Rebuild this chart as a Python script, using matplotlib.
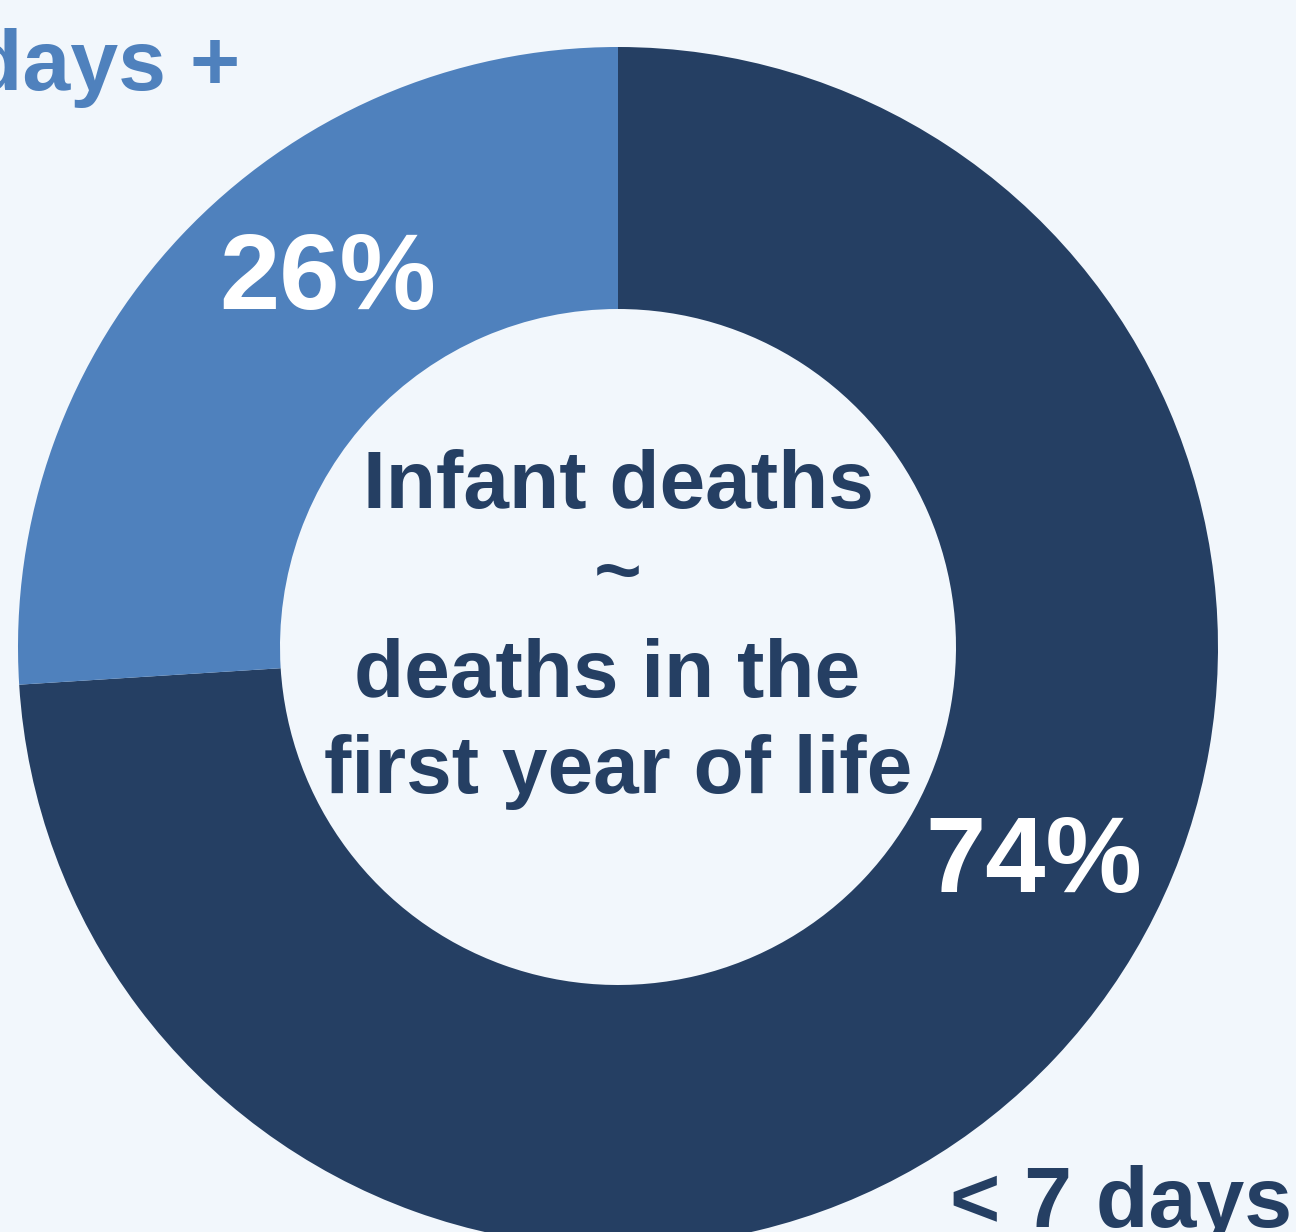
import matplotlib.pyplot as plt

# data
categories = ['< 7 days', '7 days +']
shares = [74, 26]
pct_labels = ['74%', '26%']
center_text = ['Infant deaths', '~', 'deaths in the ', 'first year of life']

DARK = '#253f63'
LIGHT = '#4f81bd'
BG = '#f2f7fc'
W, H = 1296, 1232

plt.rcParams['font.family'] = ['Liberation Sans', 'DejaVu Sans']
plt.rcParams['font.weight'] = 'bold'

fig = plt.figure(figsize=(W / 100, H / 100), dpi=100, facecolor=BG)
ax = fig.add_axes([0, 0, 1, 1])
ax.set_facecolor(BG)

cx, cy = 618, H - 647
ax.pie(shares, colors=[DARK, LIGHT], startangle=90, counterclock=False,
       radius=600, center=(cx, cy), frame=True,
       wedgeprops=dict(width=262, edgecolor='none'))
ax.set_xlim(0, W)
ax.set_ylim(0, H)
ax.set_aspect('equal')
ax.axis('off')

# percent labels inside the ring
ax.text(1034, H - 892, pct_labels[0], color='white', fontsize=78,
        ha='center', va='baseline')
ax.text(328, H - 309, pct_labels[1], color='white', fontsize=78,
        ha='center', va='baseline')

# outer category labels (cut by the edge)
ax.text(240, H - 90, categories[1], color=LIGHT, fontsize=62,
        ha='right', va='baseline')
ax.text(950, H - 1227, categories[0], color=DARK, fontsize=62,
        ha='left', va='baseline')

# centre text
ax.text(cx, H - 508, center_text[0], color=DARK, fontsize=59,
        ha='center', va='baseline')
ax.text(cx, H - 577, center_text[1], color=DARK, fontsize=59,
        ha='center', va='center')
ax.text(cx, H - 697, center_text[2], color=DARK, fontsize=59,
        ha='center', va='baseline')
ax.text(cx, H - 793, center_text[3], color=DARK, fontsize=59,
        ha='center', va='baseline')

fig.savefig('out.png', dpi=100, facecolor=BG)
